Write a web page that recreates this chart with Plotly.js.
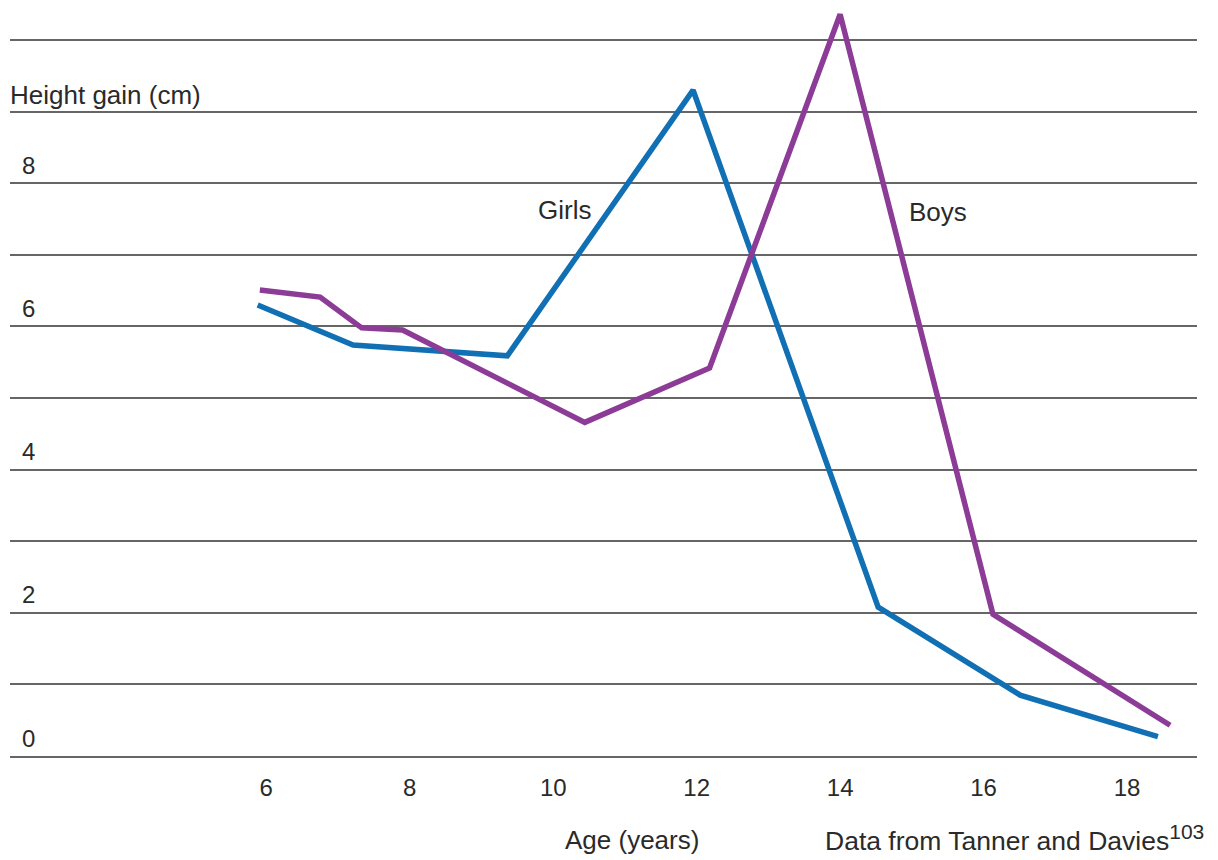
<!DOCTYPE html>
<html>
<head>
<meta charset="utf-8">
<script src="https://cdn.plot.ly/plotly-3.0.1.min.js"></script>
<style>html,body{margin:0;padding:0;background:#fff;}#chart{width:1218px;height:860px;}</style>
</head>
<body>
<div id="chart"></div>
<script>
// Age (years) and height gain (cm)
const girlsAge = [5.88, 7.21, 9.36, 11.95, 14.53, 16.51, 18.43];
const girlsGain = [6.30, 5.74, 5.59, 9.30, 2.08, 0.85, 0.27];
const boysAge = [5.91, 6.75, 7.33, 7.90, 10.44, 12.18, 14.00, 16.13, 18.60];
const boysGain = [6.51, 6.41, 5.98, 5.95, 4.66, 5.42, 10.36, 1.98, 0.43];
const xTickVals = [6, 8, 10, 12, 14, 16, 18];
const xTickText = ['6', '8', '10', '12', '14', '16', '18'];
const yTickVals = [0, 2, 4, 6, 8];
const yTickText = ['0', '2', '4', '6', '8'];
const seriesNames = ['Girls', 'Boys'];

const FONT = 'Liberation Sans, Arial, Helvetica, sans-serif';
const TXT = '#2a2a2a';
const GRID = '#666666';

const traces = [
  {x: girlsAge, y: girlsGain, name: seriesNames[0], mode: 'lines', type: 'scatter',
   line: {color: '#1170b4', width: 5.5}},
  {x: boysAge, y: boysGain, name: seriesNames[1], mode: 'lines', type: 'scatter',
   line: {color: '#8c3c96', width: 5.5}}
];

// y tick labels sit just above their gridlines, as in the reference
const yLabelAnns = yTickVals.map((v, i) => ({
  text: yTickText[i], xref: 'paper', yref: 'y', x: 0, y: v,
  xanchor: 'left', yanchor: 'middle', xshift: 10, yshift: 18,
  showarrow: false, font: {family: FONT, size: 24, color: TXT}
}));

const layout = {
  width: 1218, height: 860,
  margin: {l: 10, r: 21, t: 0, b: 104, pad: 0},
  paper_bgcolor: '#ffffff', plot_bgcolor: '#ffffff',
  showlegend: false,
  font: {family: FONT, size: 26, color: TXT},
  xaxis: {
    range: [2.427, 18.975],
    tickvals: xTickVals, ticktext: xTickText,
    showgrid: false, zeroline: false,
    showline: true, linecolor: GRID, linewidth: 2,
    ticks: '', ticklabelstandoff: 9,
    tickfont: {family: FONT, size: 24, color: TXT}
  },
  yaxis: {
    range: [0, 10.56],
    tickvals: yTickVals, showticklabels: false,
    showgrid: true, gridcolor: GRID, gridwidth: 2,
    minor: {dtick: 1, showgrid: true, gridcolor: GRID, gridwidth: 2},
    zeroline: false, showline: false, ticks: ''
  },
  annotations: yLabelAnns.concat([
    {text: 'Height gain (cm)', xref: 'paper', yref: 'y', x: 0, y: 9, xanchor: 'left', yanchor: 'middle',
     xshift: -2, yshift: 17, showarrow: false, font: {family: FONT, size: 26, color: TXT}},
    {text: seriesNames[0], xref: 'x', yref: 'y', x: 10.16, y: 7.63, showarrow: false,
     font: {family: FONT, size: 26, color: TXT}},
    {text: seriesNames[1], xref: 'x', yref: 'y', x: 15.36, y: 7.60, showarrow: false,
     font: {family: FONT, size: 26, color: TXT}},
    {text: 'Age (years)', xref: 'x', yref: 'paper', x: 11.10, y: 0, yanchor: 'middle', yshift: -84,
     showarrow: false, font: {family: FONT, size: 26, color: TXT}},
    {text: 'Data from Tanner and Davies<sup><span style="font-size:21px">103</span></sup>', xref: 'paper', yref: 'paper', x: 1.0, y: 0,
     xanchor: 'right', yanchor: 'middle', xshift: 9, yshift: -82,
     showarrow: false, font: {family: FONT, size: 26.5, color: TXT}}
  ])
};

Plotly.newPlot('chart', traces, layout, {displayModeBar: false, staticPlot: true});
</script>
</body>
</html>
